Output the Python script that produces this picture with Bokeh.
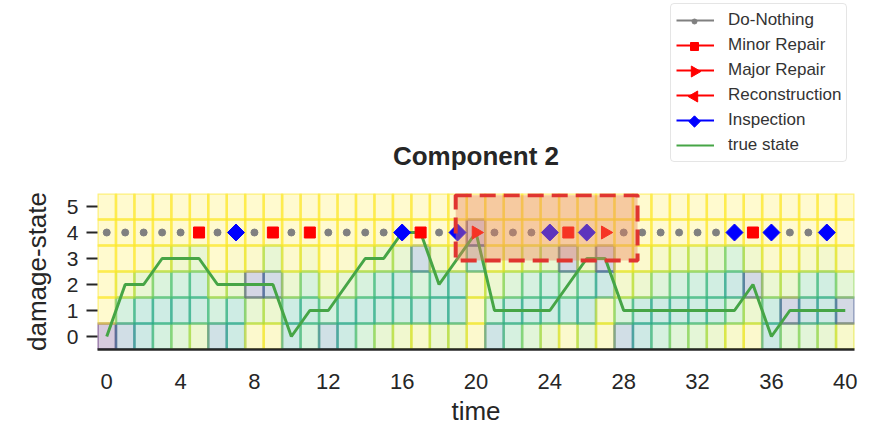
import numpy as np
from bokeh.plotting import figure
from bokeh.layouts import column
from bokeh.models import ColumnDataSource, Legend, LegendItem, FixedTicker, Label
from bokeh.palettes import Viridis256
from bokeh.transform import linear_cmap
from bokeh.embed import file_html
from bokeh.resources import INLINE

# ---------------- data ----------------
times = list(range(41))
# belief per damage state (rows), one value per time step
state0 = [0.95, 0.65, 0.45, 0.30, 0.20, 0.12, 0.60, 0.42, 0.02, 0.02, 0.45, 0.28, 0.62, 0.42, 0.25, 0.15, 0.10,
          0.05, 0.12, 0.12, 0.02, 0.55, 0.30, 0.20, 0.12, 0.03, 0.15, 0.03, 0.65, 0.45, 0.30, 0.20, 0.18, 0.12,
          0.05, 0.02, 0.45, 0.18, 0.20, 0.15, 0.05]
state1 = [0.00, 0.30, 0.40, 0.40, 0.40, 0.38, 0.30, 0.40, 0.15, 0.12, 0.40, 0.38, 0.30, 0.40, 0.40, 0.38, 0.35,
          0.40, 0.40, 0.42, 0.02, 0.30, 0.42, 0.40, 0.38, 0.40, 0.42, 0.05, 0.25, 0.40, 0.42, 0.40, 0.38, 0.38,
          0.25, 0.12, 0.38, 0.78, 0.50, 0.45, 0.75]
state2 = [0.00, 0.05, 0.15, 0.25, 0.30, 0.35, 0.10, 0.15, 0.80, 0.70, 0.13, 0.28, 0.08, 0.15, 0.28, 0.35, 0.40,
          0.25, 0.38, 0.40, 0.05, 0.12, 0.22, 0.30, 0.35, 0.25, 0.35, 0.45, 0.08, 0.12, 0.22, 0.30, 0.32, 0.35,
          0.45, 0.75, 0.14, 0.12, 0.30, 0.35, 0.18]
state3 = [0.00, 0.00, 0.00, 0.05, 0.10, 0.15, 0.00, 0.03, 0.03, 0.16, 0.02, 0.06, 0.00, 0.03, 0.07, 0.12, 0.15,
          0.65, 0.10, 0.04, 0.45, 0.03, 0.06, 0.10, 0.15, 0.75, 0.10, 0.80, 0.02, 0.03, 0.06, 0.10, 0.12, 0.15,
          0.25, 0.10, 0.03, 0.03, 0.05, 0.08, 0.03]
state4 = [0.00] * 20 + [0.85] + [0.00] * 20
state5 = [0.00] * 41
states = [0, 1, 2, 3, 4, 5]

true_state = [0, 2, 2, 3, 3, 3, 2, 2, 2, 2, 0, 1, 1, 2, 3, 3, 4, 4, 2, 3, 4, 1, 1, 1, 1, 2, 3, 3, 1, 1, 1, 1,
              1, 1, 1, 2, 0, 1, 1, 1, 1]

action_times = list(range(40))
actions = ["DN", "DN", "DN", "DN", "DN", "MR", "DN", "IN", "DN", "MR",
           "DN", "MR", "DN", "DN", "DN", "DN", "IN", "MR", "DN", "IN",
           "MJ", "DN", "DN", "DN", "IN", "MR", "IN", "MJ", "DN", "DN",
           "DN", "DN", "DN", "DN", "IN", "MR", "IN", "DN", "DN", "IN"]
action_level = 4

x_ticks = [0, 4, 8, 12, 16, 20, 24, 28, 32, 36, 40]
y_ticks = [0, 1, 2, 3, 4, 5]

highlight_x = [18.9, 28.75]
highlight_y = [2.92, 5.43]

FONT = "Liberation Sans"
TXT = "#262626"
TRUE_COLOR = "#46a546"

W = 874
TOP_H = 193
FRAME_W = 757          # frame width shared by both stacked figures (aligned frames)

specs = [
    # code, label, marker, plot size, legend size, color, angle
    ("DN", "Do-Nothing", "circle", 7, 5, "#808080", 0.0),
    ("MR", "Minor Repair", "square", 11, 8, "#ff0000", 0.0),
    ("MJ", "Major Repair", "triangle", 13, 11, "#ff0000", -np.pi / 2),
    ("RC", "Reconstruction", "triangle", 13, 11, "#ff0000", np.pi / 2),
    ("IN", "Inspection", "square", 12, 8, "#0000ff", np.pi / 4),
]

# ---------------- header (title + legend) ----------------
top = figure(width=W, height=TOP_H, output_backend="svg", toolbar_location=None, title=None,
             x_range=(0, FRAME_W), y_range=(0, TOP_H), x_axis_location=None, y_axis_location=None,
             min_border=0)
top.outline_line_color = None
top.grid.visible = False
top.background_fill_color = "white"

# legend geometry (screen px inside the header frame)
LEG_X, LEG_Y = 573, 31
PAD, ROW_H, SPACING, GLYPH_W = 5, 22, 3, 38
n_items = len(specs) + 1
leg_h = 2 * PAD + n_items * ROW_H + (n_items - 1) * SPACING
leg_top = LEG_Y + leg_h

nan = [float("nan")]
items = []
sym_x, sym_y, sym_marker, sym_size, sym_color, sym_angle = [], [], [], [], [], []
for i, (code, label, marker, psize, lsize, color, ang) in enumerate(specs):
    lr = top.line(x=nan * 2, y=nan * 2, line_color=color, line_width=2)
    items.append(LegendItem(label=label, renderers=[lr]))
    sym_x.append(LEG_X + PAD + GLYPH_W / 2)
    sym_y.append(leg_top - PAD - ROW_H / 2 - i * (ROW_H + SPACING))
    sym_marker.append(marker); sym_size.append(lsize); sym_color.append(color); sym_angle.append(ang)
tl = top.line(x=nan * 2, y=nan * 2, line_color=TRUE_COLOR, line_width=2)
items.append(LegendItem(label="true state", renderers=[tl]))

# legend symbols with their true orientation (the legend box is transparent above them)
sym_src = ColumnDataSource(dict(x=sym_x, y=sym_y, marker=sym_marker, size=sym_size,
                                color=sym_color, angle=sym_angle))
top.scatter(x="x", y="y", marker="marker", size="size", angle="angle", fill_color="color",
            line_color="color", source=sym_src)

legend = Legend(items=items, location=(LEG_X, LEG_Y))
legend.label_text_font = FONT
legend.label_text_font_size = "17px"
legend.label_text_color = "#333333"
legend.glyph_width = GLYPH_W
legend.glyph_height = ROW_H
legend.label_height = ROW_H
legend.spacing = SPACING
legend.padding = PAD
legend.margin = 0
legend.label_standoff = 14
legend.border_line_color = "#cccccc"
legend.border_line_width = 1
legend.background_fill_alpha = 0.0
try:
    legend.border_radius = 4
except Exception:
    pass
top.add_layout(legend)

top.add_layout(Label(x=FRAME_W / 2, y=38, text="Component 2", text_align="center", text_baseline="middle",
                     text_font=FONT, text_font_size="26px", text_font_style="bold", text_color=TXT))

# ---------------- main chart ----------------
p = figure(width=W, height=235, output_backend="svg", toolbar_location=None, title=None,
           x_range=(-0.5, 40.5), y_range=(-0.5, 5.5),
           min_border_left=97, min_border_right=20, min_border_top=0, min_border_bottom=75)
p.outline_line_color = None
p.grid.visible = False
p.background_fill_color = "white"

rows = [state0, state1, state2, state3, state4, state5]
hx, hy, hp = [], [], []
for s, row in zip(states, rows):
    for t, v in zip(times, row):
        hx.append(t); hy.append(s); hp.append(v)
hsrc = ColumnDataSource(dict(x=hx, y=hy, p=hp))
cmap = linear_cmap("p", list(Viridis256)[::-1], 0, 1)
p.rect(x="x", y="y", width=1, height=1, source=hsrc, fill_color=cmap, fill_alpha=0.22,
       line_color=cmap, line_alpha=0.5, line_width=2.5)

p.line(times, true_state, line_color=TRUE_COLOR, line_width=3)

for code, label, marker, psize, lsize, color, ang in specs:
    xs = [t for t, a in zip(action_times, actions) if a == code]
    if not xs:
        continue
    ys = [action_level for _ in xs]
    p.scatter(x=xs, y=ys, marker=marker, size=psize, fill_color=color, line_color=color, angle=ang)

p.quad(left=[highlight_x[0]], right=[highlight_x[1]], bottom=[highlight_y[0]], top=[highlight_y[1]],
       fill_color="#e9825a", fill_alpha=0.4, line_color="#e03530", line_width=4, line_dash="16 8")

p.xaxis.ticker = FixedTicker(ticks=x_ticks)
p.xaxis.axis_label = "time"
p.xaxis.major_tick_line_color = None
p.xaxis.minor_tick_line_color = None
p.xaxis.major_tick_out = 0
p.xaxis.major_tick_in = 0
p.xaxis.axis_line_color = TXT
p.xaxis.axis_line_width = 2.5
p.xaxis.major_label_standoff = 24
p.xaxis.axis_label_standoff = 4

p.yaxis.ticker = FixedTicker(ticks=y_ticks)
p.yaxis.axis_label = "damage-state"
p.yaxis.axis_line_color = None
p.yaxis.minor_tick_line_color = None
p.yaxis.major_tick_line_color = TXT
p.yaxis.major_tick_line_width = 2
p.yaxis.major_tick_out = 11
p.yaxis.major_tick_in = 0
p.yaxis.major_label_standoff = 8
p.yaxis.axis_label_standoff = 12

for ax, size in ((p.xaxis, "22px"), (p.yaxis, "21px")):
    ax.major_label_text_font = FONT
    ax.major_label_text_font_size = size
    ax.major_label_text_color = TXT
    ax.axis_label_text_font = FONT
    ax.axis_label_text_font_size = "26px"
    ax.axis_label_text_font_style = "normal"
    ax.axis_label_text_color = TXT

layout = column(top, p, spacing=0)
open("out.html", "w").write(file_html(layout, INLINE))
